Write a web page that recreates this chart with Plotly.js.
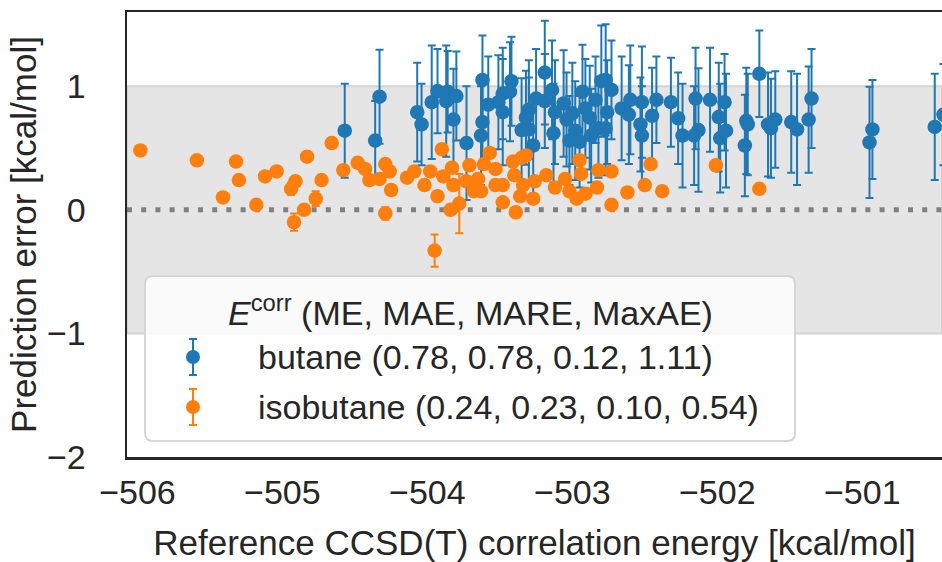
<!DOCTYPE html>
<html>
<head>
<meta charset="utf-8">
<script src="https://cdn.plot.ly/plotly-3.0.1.min.js"></script>
<style>html,body{margin:0;padding:0;background:#fff;overflow:hidden}</style>
</head>
<body>
<div id="chart" style="width:942px;height:562px"></div>
<script>
// ---------- data ----------
const butaneX = [-504.57,-504.33,-504.36,-504.07,-504.04,-503.97,-503.93,-503.87,-503.86,-503.80,
  -503.82,-503.73,-503.62,-503.62,-503.63,-503.58,-503.51,-503.48,-503.42,-503.43,
  -503.48,-503.35,-503.30,-503.32,-503.30,-503.27,-503.25,-503.19,-503.14,-503.19,
  -503.12,-503.13,-503.06,-503.04,-503.00,-502.98,-503.02,-502.93,-502.91,-502.88,
  -502.95,-502.84,-502.82,-502.87,-502.80,-502.77,-502.73,-502.76,-502.77,-502.66,
  -502.60,-502.61,-502.52,-502.53,-502.52,-502.45,-502.42,-502.32,-502.27,-502.24,
  -502.15,-502.13,-502.16,-502.05,-501.99,-501.95,-501.94,-501.98,-501.80,-501.79,
  -501.81,-501.71,-501.65,-501.63,-501.60,-501.49,-501.45,-501.37,-501.35,-500.93,
  -500.95,-500.50,-500.44];
const butaneErr = [0.64,0.915,0.56,0.79,0.69,0.87,0.96,0.88,0.955,0.92,
  0.73,0.54,1.05,0.71,0.60,0.85,0.87,0.79,1.04,0.955,
  0.94,0.645,0.81,0.745,0.65,0.52,0.90,1.11,0.97,0.88,
  0.79,0.62,0.86,0.73,0.78,0.64,0.56,0.955,0.82,0.745,
  0.55,0.89,0.66,0.60,1.04,1.05,0.97,0.79,0.66,0.82,
  0.89,0.77,0.87,0.69,0.60,0.76,0.89,0.87,0.74,0.60,
  0.90,0.645,0.60,0.89,0.75,0.87,0.64,0.58,0.72,0.69,
  0.52,1.10,0.69,0.66,0.73,0.71,0.65,0.73,0.90,0.65,
  0.545,0.67,0.77];
const butaneUnc = [0.38,0.38,0.32,0.40,0.33,0.46,0.34,0.45,0.33,0.36,
  0.41,0.46,0.36,0.38,0.40,0.39,0.38,0.43,0.36,0.40,
  0.37,0.42,0.40,0.38,0.42,0.40,0.40,0.42,0.40,0.38,
  0.42,0.40,0.43,0.38,0.41,0.40,0.36,0.38,0.40,0.42,
  0.37,0.35,0.40,0.38,0.45,0.45,0.40,0.42,0.38,0.42,
  0.44,0.40,0.45,0.38,0.40,0.39,0.35,0.36,0.37,0.42,
  0.41,0.50,0.40,0.42,0.44,0.39,0.46,0.44,0.43,0.41,
  0.41,0.35,0.42,0.40,0.39,0.41,0.45,0.43,0.40,0.40,
  0.45,0.43,0.41];

const isobutaneX = [-505.98,-505.59,-505.32,-505.30,-505.41,-505.18,-505.12,-505.04,-504.83,-504.91,
  -504.94,-504.92,-504.85,-504.73,-504.77,-504.66,-504.58,-504.48,-504.43,-504.40,
  -504.29,-504.26,-504.33,-504.25,-504.29,-504.14,-504.09,-503.90,-503.98,-504.02,
  -503.93,-503.89,-503.83,-503.82,-503.84,-503.78,-503.95,-503.71,-503.73,-503.68,
  -503.63,-503.65,-503.57,-503.61,-503.53,-503.53,-503.48,-503.48,-503.41,-503.40,
  -503.35,-503.32,-503.34,-503.39,-503.36,-503.27,-503.26,-503.18,-503.12,-503.05,
  -503.02,-502.97,-502.95,-502.94,-502.91,-502.83,-502.82,-502.73,-502.73,-502.62,
  -502.50,-502.46,-502.38,-502.01,-501.71];
const isobutaneErr = [0.48,0.40,0.39,0.24,0.10,0.04,0.27,0.31,0.43,0.23,
  0.17,-0.10,0.00,0.24,0.09,0.54,0.32,0.38,0.33,0.24,
  0.37,0.31,0.25,0.16,-0.03,0.26,0.31,0.49,0.31,0.20,
  0.11,0.27,0.34,0.20,0.00,0.05,-0.33,0.36,0.23,0.15,
  0.15,0.25,0.46,0.37,0.33,0.20,0.06,0.20,0.39,0.28,
  0.42,0.44,0.20,-0.02,0.11,0.09,0.23,0.28,0.18,0.25,
  0.15,0.09,0.40,0.29,0.13,0.18,0.32,0.31,0.04,0.14,
  0.20,0.37,0.15,0.36,0.17];
const isobutaneUnc = [0.04,0.04,0.04,0.04,0.04,0.04,0.04,0.04,0.04,0.04,
  0.05,0.07,0.04,0.04,0.06,0.04,0.04,0.04,0.04,0.04,
  0.04,0.04,0.04,0.04,0.05,0.04,0.04,0.04,0.04,0.04,
  0.04,0.04,0.04,0.04,0.04,0.24,0.13,0.04,0.04,0.04,
  0.04,0.04,0.04,0.04,0.04,0.04,0.04,0.04,0.04,0.04,
  0.04,0.04,0.04,0.04,0.04,0.04,0.04,0.04,0.04,0.04,
  0.04,0.04,0.04,0.04,0.04,0.04,0.04,0.04,0.04,0.04,
  0.04,0.04,0.04,0.04,0.04];

const xTicks = [-506,-505,-504,-503,-502,-501];
const yTicks = [-2,-1,0,1];
const legendTitle = '<i>E</i><sup>corr</sup> (ME, MAE, MARE, MaxAE)';
const butaneLabel = 'butane (0.78, 0.78, 0.12, 1.11)';
const isobutaneLabel = 'isobutane (0.24, 0.23, 0.10, 0.54)';

// ---------- styling ----------
const BLUE = '#1f77b4', ORANGE = '#ff7f0e', INK = '#262626';
const FONT = 'Liberation Sans, Arial, sans-serif';
const W = 942, H = 562, ML = 127, MR = 0, MT = 12, MB = 105;
const PW = W - ML - MR, PH = H - MT - MB;
const px = v => (v - ML) / PW;          // pixel -> paper x
const py = v => (H - MB - v) / PH;      // pixel -> paper y

const traces = [
  {x: butaneX, y: butaneErr, name: butaneLabel, type: 'scatter', mode: 'markers',
   marker: {color: BLUE, size: 14.5},
   error_y: {type: 'data', array: butaneUnc, visible: true, color: BLUE, thickness: 2, width: 4}},
  {x: isobutaneX, y: isobutaneErr, name: isobutaneLabel, type: 'scatter', mode: 'markers',
   marker: {color: ORANGE, size: 14.5},
   error_y: {type: 'data', array: isobutaneUnc, visible: true, color: ORANGE, thickness: 2, width: 4}}
];

// legend box (rounded)
const L = 145, R = 795, T = 276, B = 441, rad = 8;
function rpath(){
  const rx = rad / PW, ry = rad / PH;
  const l = px(L), r = px(R), t = py(T), b = py(B);
  return `M${l+rx},${t} L${r-rx},${t} Q${r},${t} ${r},${t-ry} L${r},${b+ry} Q${r},${b} ${r-rx},${b} ` +
         `L${l+rx},${b} Q${l},${b} ${l},${b+ry} L${l},${t-ry} Q${l},${t} ${l+rx},${t} Z`;
}
const glyphX = 193, capHalf = 4;
function glyph(yc, half, color){
  return [
    {type:'line', xref:'paper', yref:'paper', x0:px(glyphX), x1:px(glyphX), y0:py(yc-half), y1:py(yc+half), line:{color, width:2}, layer:'above'},
    {type:'line', xref:'paper', yref:'paper', x0:px(glyphX-capHalf), x1:px(glyphX+capHalf), y0:py(yc-half), y1:py(yc-half), line:{color, width:2}, layer:'above'},
    {type:'line', xref:'paper', yref:'paper', x0:px(glyphX-capHalf), x1:px(glyphX+capHalf), y0:py(yc+half), y1:py(yc+half), line:{color, width:2}, layer:'above'},
    {type:'circle', xref:'paper', yref:'paper', xsizemode:'pixel', ysizemode:'pixel',
     xanchor:px(glyphX), yanchor:py(yc), x0:-7, x1:7, y0:-7, y1:7, fillcolor:color, line:{width:0}, layer:'above'}
  ];
}

const shapes = [
  {type:'rect', xref:'paper', yref:'y', x0:0, x1:1, y0:-1, y1:1, fillcolor:'#e5e5e5', line:{color:'#d4d4d4', width:2}, layer:'below'},
  {type:'line', xref:'paper', yref:'y', x0:0, x1:1, y0:0, y1:0, line:{color:'#808080', width:5, dash:'5px,9.2px'}, layer:'below'},
  {type:'path', xref:'paper', yref:'paper', path: rpath(), fillcolor:'rgba(255,255,255,0.8)', line:{color:'#d6d6d6', width:2}, layer:'above'},
  ...glyph(357, 18, BLUE),
  ...glyph(407, 18, ORANGE)
];

const annotations = [
  {xref:'paper', yref:'paper', x:px((L+R)/2), y:py(310), text: legendTitle, showarrow:false, xanchor:'center', yanchor:'middle', font:{family:FONT, size:34, color:INK}},
  {xref:'paper', yref:'paper', x:px(256), y:py(357), text: butaneLabel, showarrow:false, xanchor:'left', yanchor:'middle', font:{family:FONT, size:34, color:INK}},
  {xref:'paper', yref:'paper', x:px(256), y:py(407), text: isobutaneLabel, showarrow:false, xanchor:'left', yanchor:'middle', font:{family:FONT, size:34, color:INK}}
];

const layout = {
  width: W, height: H,
  margin: {l: ML, r: MR, t: MT, b: MB, pad: 0},
  paper_bgcolor: '#ffffff', plot_bgcolor: '#ffffff',
  font: {family: FONT, size: 34, color: INK},
  showlegend: false,
  xaxis: {
    range: [-506.072, -500.45], tickvals: xTicks, showgrid: false, zeroline: false,
    showline: true, linecolor: INK, linewidth: 2.5, mirror: true,
    ticks: '', ticklabelstandoff: 4, tickfont: {family: FONT, size: 34, color: INK},
    title: {text: 'Reference CCSD(T) correlation energy [kcal/mol]', font: {family: FONT, size: 35, color: INK}, standoff: 22}
  },
  yaxis: {
    range: [-2, 1.6], tickvals: yTicks, showgrid: false, zeroline: false,
    showline: true, linecolor: INK, linewidth: 2.5, mirror: false,
    ticks: '', ticklabelstandoff: 32, tickfont: {family: FONT, size: 34, color: INK},
    title: {text: 'Prediction error [kcal/mol]', font: {family: FONT, size: 35, color: INK}, standoff: 0}
  },
  shapes: shapes,
  annotations: annotations
};

Plotly.newPlot('chart', traces, layout, {displayModeBar: false, staticPlot: true});
</script>
</body>
</html>
